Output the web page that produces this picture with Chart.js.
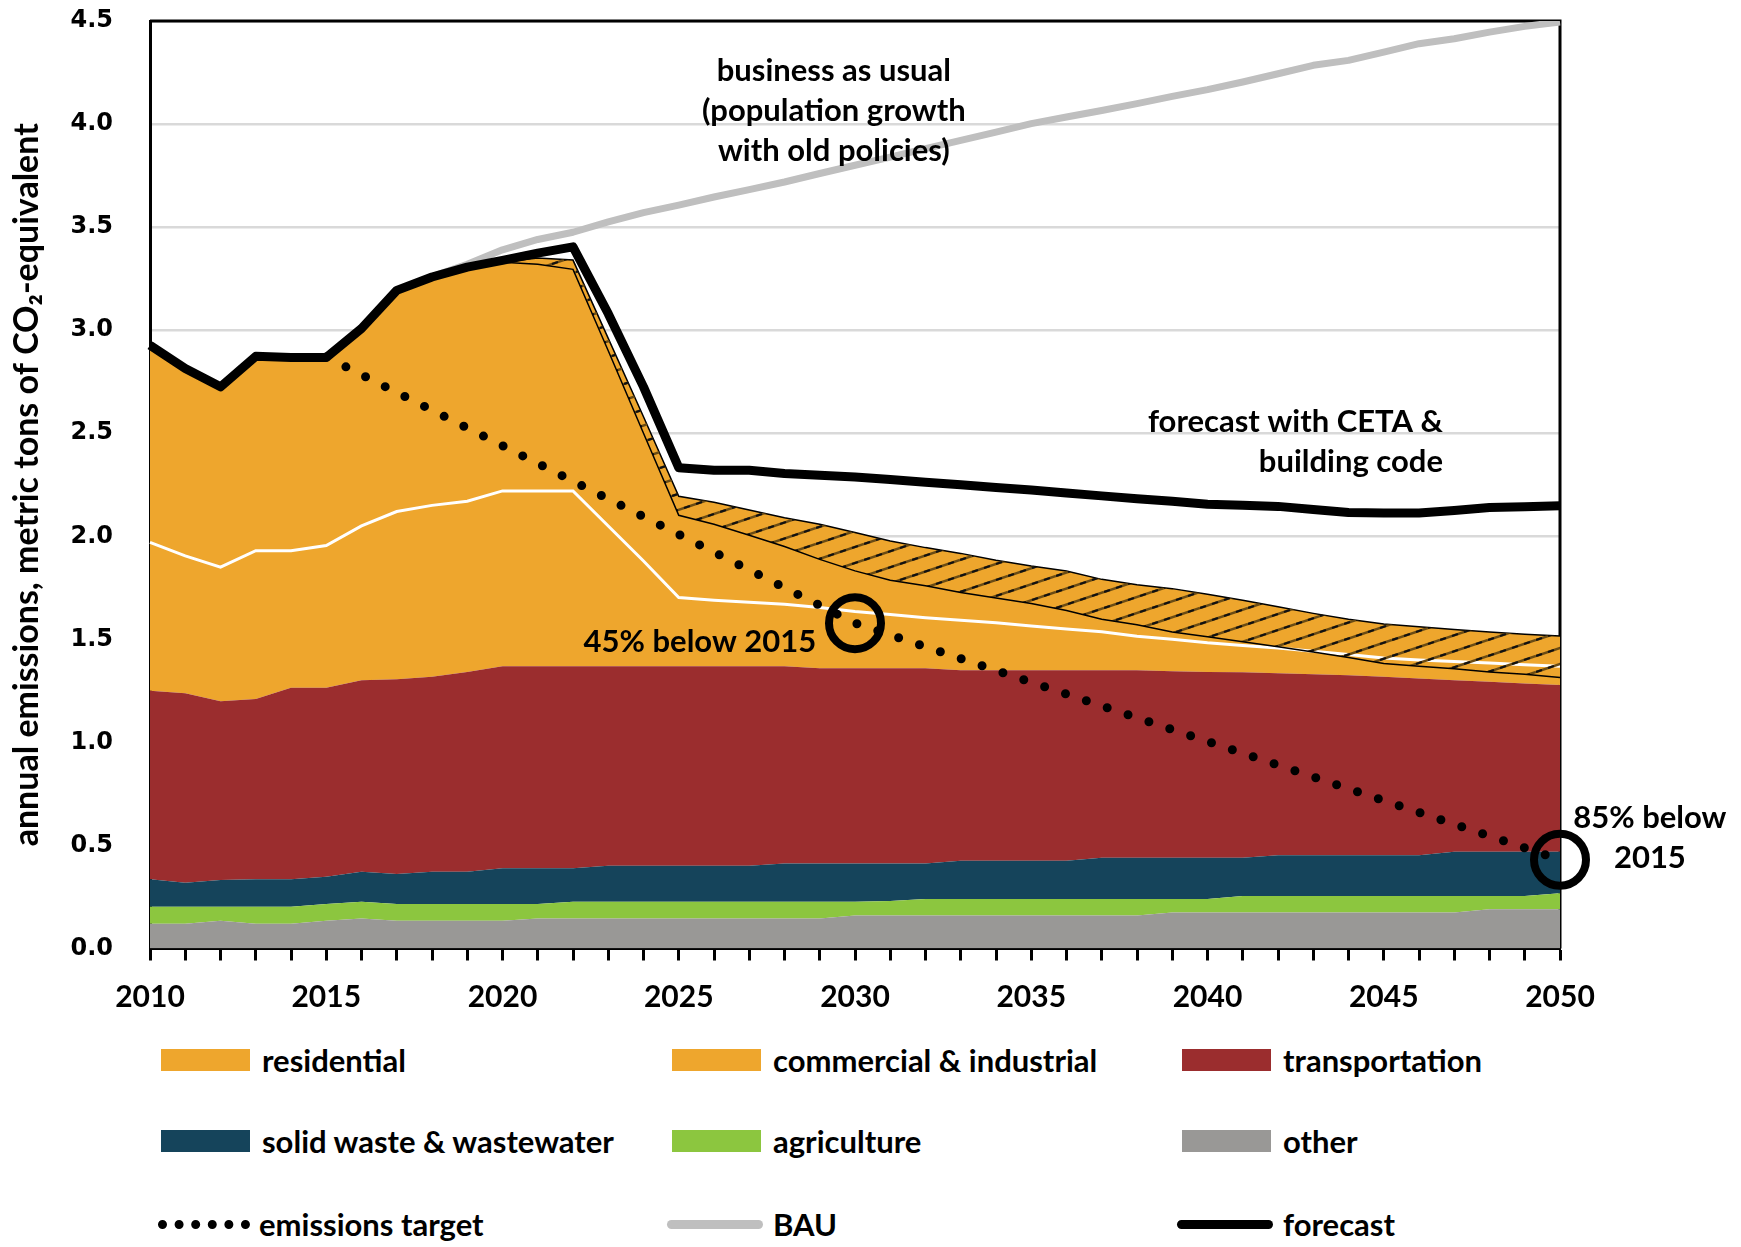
<!DOCTYPE html>
<html>
<head>
<meta charset="utf-8">
<title>Emissions forecast</title>
<script src="https://cdn.jsdelivr.net/npm/chart.js@4/dist/chart.umd.min.js"></script>
<style>
  body { margin: 0; background: #fff; }
  #wrap { position: relative; width: 1741px; height: 1247px; }
  #chart { position: absolute; left: 0; top: 0; }
  .key { position: absolute; height: 40px; display: flex; align-items: center;
         font: bold 31px Lato, "Open Sans", sans-serif; color: #000; white-space: nowrap; }
  .key .mark { width: 89px; height: 22px; margin-right: 12px; flex: none; }
  .key .line { height: 9px; border-radius: 5px; width: 96px; margin-left: -5px; margin-right: 10px; }
  .key .dots { height: 0; border-top: 9px dotted #000; width: 92px; margin-left: -3px; margin-right: 9px; }
</style>
</head>
<body>
<div id="wrap">
  <canvas id="chart" width="1741" height="1010"></canvas>
  <div id="legend"></div>
</div>
<script>
const years = [2010,2011,2012,2013,2014,2015,2016,2017,2018,2019,2020,2021,2022,2023,2024,2025,2026,2027,2028,2029,
               2030,2031,2032,2033,2034,2035,2036,2037,2038,2039,2040,2041,2042,2043,2044,2045,2046,2047,2048,2049,2050];
const labelYears = [2010,2015,2020,2025,2030,2035,2040,2045,2050];

// stacked layers, bottom to top (metric tons per year of each layer)
const other = [0.12,0.12,0.135,0.12,0.12,0.135,0.145,0.135,0.135,0.135,0.135,0.145,0.145,0.145,0.145,0.145,0.145,0.145,0.145,0.145,
               0.16,0.16,0.16,0.16,0.16,0.16,0.16,0.16,0.16,0.175,0.175,0.175,0.175,0.175,0.175,0.175,0.175,0.175,0.19,0.19,0.19];
const agriculture = [0.083,0.083,0.068,0.083,0.083,0.081,0.082,0.081,0.081,0.081,0.081,0.071,0.082,0.082,0.082,0.082,0.082,0.082,0.082,0.082,
                     0.067,0.07,0.08,0.08,0.08,0.08,0.08,0.08,0.08,0.065,0.065,0.08,0.08,0.08,0.08,0.08,0.08,0.08,0.065,0.065,0.078];
const waste = [0.133,0.116,0.129,0.133,0.133,0.132,0.145,0.145,0.156,0.156,0.173,0.173,0.162,0.175,0.175,0.175,0.175,0.175,0.186,0.186,
               0.186,0.183,0.173,0.186,0.186,0.186,0.186,0.20,0.20,0.20,0.20,0.185,0.198,0.198,0.198,0.198,0.198,0.214,0.214,0.214,0.201];
const transportation = [0.914,0.919,0.868,0.875,0.929,0.917,0.930,0.945,0.946,0.970,0.981,0.981,0.981,0.968,0.968,0.968,0.968,0.968,0.957,0.947,
                        0.947,0.947,0.947,0.924,0.924,0.924,0.924,0.910,0.910,0.905,0.902,0.900,0.882,0.877,0.873,0.865,0.857,0.833,0.825,0.817,0.809];
const commercial = [0.72,0.667,0.65,0.719,0.665,0.69,0.748,0.814,0.832,0.828,0.85,0.85,0.85,0.68,0.51,0.333,0.32,0.31,0.30,0.295,
                    0.275,0.26,0.245,0.243,0.23,0.215,0.20,0.187,0.165,0.155,0.141,0.13,0.123,0.112,0.10,0.092,0.09,0.091,0.091,0.091,0.091];
const residential = [0.96,0.915,0.88,0.95,0.94,0.915,0.96,1.075,1.11,1.14,1.11,1.13,1.12,0.91,0.70,0.491,0.475,0.448,0.42,0.403,
                     0.383,0.357,0.34,0.324,0.304,0.291,0.282,0.254,0.25,0.246,0.236,0.22,0.20,0.184,0.171,0.164,0.161,0.155,0.151,0.148,0.147];

// total with building code (lower edge of the hatched band)
const buildingCode = [null,null,null,null,null,null,null,null,null,null,3.33,3.32,3.295,2.90,2.50,2.102,2.058,2.005,1.95,1.888,
                      1.832,1.787,1.76,1.727,1.70,1.674,1.64,1.597,1.571,1.536,1.512,1.488,1.464,1.439,1.412,1.383,1.37,1.357,1.342,1.33,1.315];

const forecast = [2.927,2.814,2.725,2.873,2.867,2.867,3.008,3.193,3.258,3.306,3.339,3.374,3.404,3.08,2.725,2.333,2.32,2.32,2.305,2.296,
                  2.288,2.275,2.262,2.25,2.237,2.224,2.21,2.196,2.182,2.17,2.155,2.15,2.145,2.13,2.115,2.113,2.113,2.125,2.14,2.143,2.148];
const bau = [null,null,null,null,null,null,null,3.193,3.26,3.32,3.39,3.44,3.475,3.525,3.57,3.607,3.646,3.682,3.719,3.76,
             3.80,3.84,3.881,3.921,3.961,4.002,4.034,4.066,4.099,4.134,4.167,4.204,4.244,4.285,4.309,4.349,4.39,4.414,4.446,4.474,4.495];

const targetYears = [2015, 2030, 2050];
const targetValues = [2.87, 1.5785, 0.4305];
const milestoneYears = [2030, 2050];

const ORANGE = '#eea62d';
const FONT = 'Lato, "Open Sans", sans-serif';

function hatch() {
  const w = 48, h = 16;
  const c = document.createElement('canvas');
  c.width = w; c.height = h;
  const g = c.getContext('2d');
  const strokeAll = () => {
    for (const dy of [-h, 0, h]) {
      g.beginPath(); g.moveTo(0, h + dy); g.lineTo(w, dy); g.stroke();
    }
  };
  g.strokeStyle = '#6b4c14'; g.lineWidth = 2.6; strokeAll();
  g.strokeStyle = '#111'; g.lineWidth = 2.2; g.setLineDash([6.3, 6.35]); strokeAll();
  return g.createPattern(c, 'repeat');
}

function area(label, data, color, fill = '-1', extra = {}) {
  return Object.assign({ label, data, backgroundColor: color, borderWidth: 0, fill, pointRadius: 0, yAxisID: 'y' }, extra);
}

const targetSeries = years.map(yr => {
  const k = targetYears.indexOf(yr);
  return k < 0 ? null : targetValues[k];
});

// annotations: at = position in years after 2010, value = y of first line
const notes = [
  { lines: ['business as usual', '(population growth', 'with old policies)'], at: 19.4, value: 4.255, align: 'center' },
  { lines: ['forecast with CETA &', 'building code'], at: 36.68, value: 2.553, align: 'right' },
  { lines: ['45% below 2015'], at: 18.9, value: 1.486, align: 'right' },
  { lines: ['85% below', '2015'], at: 42.55, value: 0.633, align: 'center' }
];

const notesPlugin = {
  id: 'notes',
  afterDatasetsDraw(chart) {
    const { ctx, scales: { x, y } } = chart;
    ctx.save();
    ctx.font = 'bold 31px ' + FONT;
    ctx.fillStyle = '#000';
    ctx.textBaseline = 'middle';
    notes.forEach(n => {
      ctx.textAlign = n.align;
      const px = x.getPixelForValue(n.at);
      const py = y.getPixelForValue(n.value);
      n.lines.forEach((t, i) => ctx.fillText(t, px, py + i * 40));
    });
    ctx.restore();
  }
};

const framePlugin = {
  id: 'frame',
  beforeDatasetsDraw(chart) {
    const { ctx, chartArea: a } = chart;
    ctx.save();
    ctx.strokeStyle = '#000';
    ctx.lineWidth = 3;
    ctx.beginPath();
    ctx.moveTo(a.left, a.top); ctx.lineTo(a.right, a.top); ctx.lineTo(a.right, a.bottom);
    ctx.stroke();
    ctx.restore();
  }
};

new Chart(document.getElementById('chart'), {
  type: 'line',
  data: {
    labels: years,
    datasets: [
      area('other', other, '#999896', 'origin'),
      area('agriculture', agriculture, '#8cc63f'),
      area('solid waste & wastewater', waste, '#15445b'),
      area('transportation', transportation, '#9b2d2e'),
      area('commercial & industrial', commercial, ORANGE, '-1', { borderColor: '#fff', borderWidth: 3 }),
      area('residential', residential, ORANGE, '-1', { borderColor: '#000', borderWidth: 1.5 }),
      {
        label: 'building code', data: buildingCode, yAxisID: 'y2', order: -1,
        fill: { target: 5 }, backgroundColor: hatch(), borderColor: '#000', borderWidth: 1.5, pointRadius: 0
      },
      {
        label: 'emissions target', data: targetSeries, yAxisID: 'y2', order: -2, spanGaps: true, fill: false,
        borderColor: '#000', borderWidth: 9, borderDash: [0, 22], borderCapStyle: 'round', clip: false,
        pointRadius: ctx => milestoneYears.includes(years[ctx.index]) ? 26 : 0,
        pointBorderWidth: 8, pointBorderColor: '#000', pointBackgroundColor: 'rgba(0,0,0,0)'
      },
      {
        label: 'BAU', data: bau, yAxisID: 'y2', order: -3, fill: false,
        borderColor: '#bfbfbf', borderWidth: 7, borderJoinStyle: 'round', pointRadius: 0
      },
      {
        label: 'forecast', data: forecast, yAxisID: 'y2', order: -4, fill: false,
        borderColor: '#000', borderWidth: 9, borderJoinStyle: 'round', pointRadius: 0
      }
    ]
  },
  options: {
    responsive: false,
    animation: false,
    devicePixelRatio: 1,
    events: [],
    layout: { autoPadding: false, padding: { left: 0, right: 181, top: 21, bottom: 0 } },
    plugins: { legend: { display: false }, tooltip: { enabled: false } },
    scales: {
      x: {
        offset: false,
        afterFit(scale) { scale.height = 61.5; },
        grid: { drawOnChartArea: false, drawTicks: true, tickLength: 12, tickWidth: 3, tickColor: '#000' },
        border: { color: '#000', width: 3 },
        ticks: {
          autoSkip: false, maxRotation: 0, padding: 19, color: '#000',
          font: { family: FONT, size: 30, weight: 'bold' },
          callback: (v, i) => labelYears.includes(years[i]) ? String(years[i]) : ''
        }
      },
      y: {
        stacked: true, min: 0, max: 4.5,
        afterFit(scale) { scale.width = 150; scale.paddingTop = 0; scale.paddingBottom = 0; },
        grid: { color: '#d9d9d9', lineWidth: 2.5, drawTicks: false },
        border: { color: '#000', width: 3 },
        ticks: {
          stepSize: 0.5, padding: 37, color: '#000',
          font: { family: '"DejaVu Sans"', size: 24, weight: 'bold' },
          callback: v => Number(v).toFixed(1)
        },
        title: {
          display: true, text: 'annual emissions, metric tons of CO₂-equivalent', color: '#000',
          font: { family: FONT, size: 34, weight: 'bold' }, padding: { top: 7, bottom: 0 }
        }
      },
      y2: { display: false, stacked: false, min: 0, max: 4.5 }
    }
  },
  plugins: [framePlugin, notesPlugin]
});

// legend: three columns, three rows
const legendItems = [
  { label: 'residential', kind: 'box', color: ORANGE },
  { label: 'commercial & industrial', kind: 'box', color: ORANGE },
  { label: 'transportation', kind: 'box', color: '#9b2d2e' },
  { label: 'solid waste & wastewater', kind: 'box', color: '#15445b' },
  { label: 'agriculture', kind: 'box', color: '#8cc63f' },
  { label: 'other', kind: 'box', color: '#999896' },
  { label: 'emissions target', kind: 'dots', color: '#000' },
  { label: 'BAU', kind: 'line', color: '#bfbfbf' },
  { label: 'forecast', kind: 'line', color: '#000' }
];
const colX = [161, 672, 1182];
const rowY = [1060, 1141, 1224];
const legend = document.getElementById('legend');
legendItems.forEach((it, i) => {
  const el = document.createElement('div');
  el.className = 'key';
  el.style.left = colX[i % 3] + 'px';
  el.style.top = (rowY[Math.floor(i / 3)] - 20) + 'px';
  const m = document.createElement('span');
  m.className = 'mark' + (it.kind === 'box' ? '' : ' ' + it.kind);
  if (it.kind !== 'dots') m.style.background = it.color;
  const t = document.createElement('span');
  t.textContent = it.label;
  el.appendChild(m); el.appendChild(t);
  legend.appendChild(el);
});
</script>
</body>
</html>
